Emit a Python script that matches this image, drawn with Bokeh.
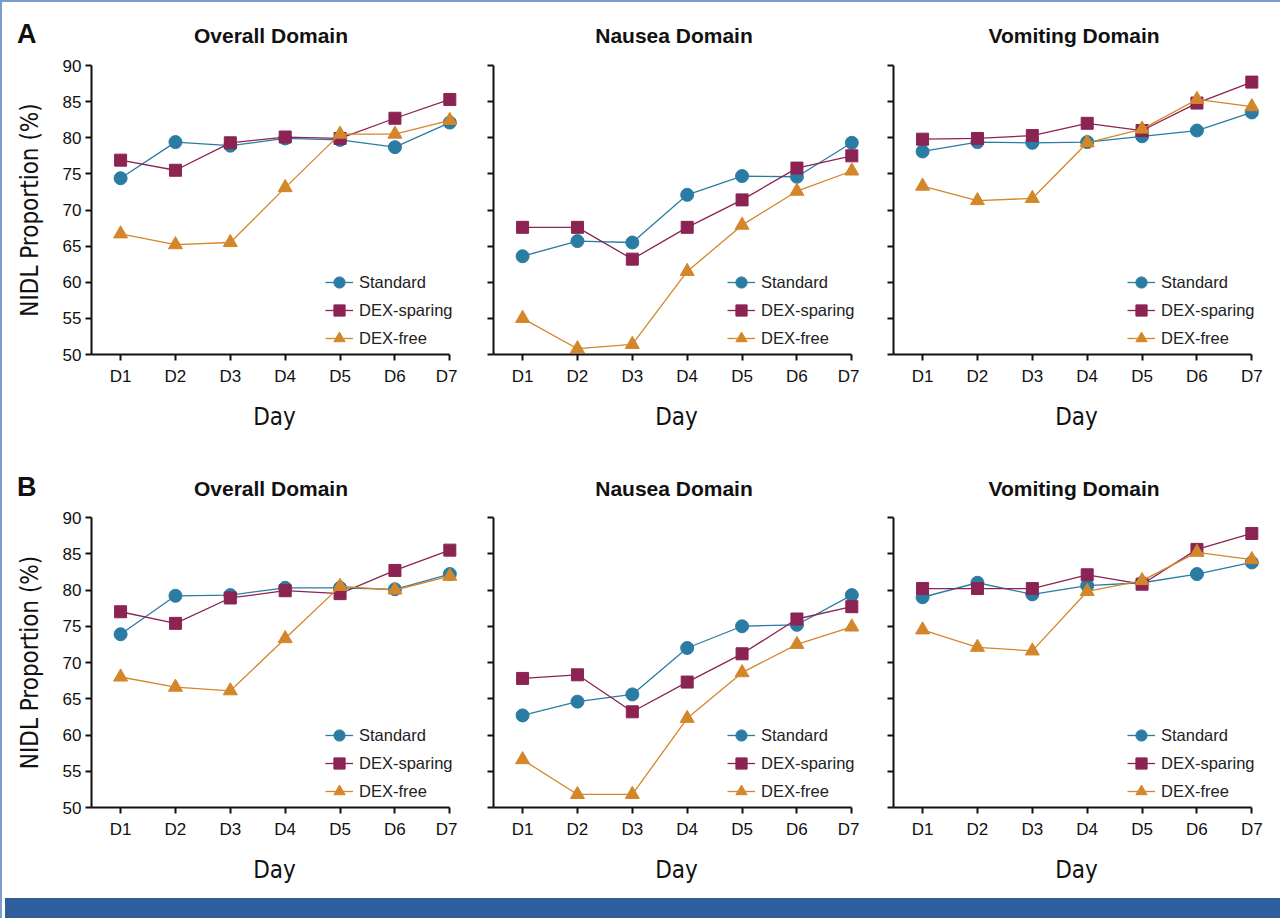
from bokeh.plotting import figure
from bokeh.models import (Range1d, FixedTicker, Legend, LegendItem, Div)
from bokeh.layouts import row, column
from bokeh.embed import file_html
from bokeh.resources import INLINE

# ---------------- data ----------------
days = ["D1", "D2", "D3", "D4", "D5", "D6", "D7"]
day_pos = [1, 2, 3, 4, 5, 6, 7]
y_ticks = [50, 55, 60, 65, 70, 75, 80, 85, 90]
series_names = ["Standard", "DEX-sparing", "DEX-free"]
domains = ["Overall Domain", "Nausea Domain", "Vomiting Domain"]
panel_letters = ["A", "B"]

# Panel A
a_overall_standard = [74.4, 79.4, 78.9, 79.9, 79.7, 78.7, 82.1]
a_overall_sparing = [76.9, 75.5, 79.3, 80.1, 79.9, 82.7, 85.3]
a_overall_free = [66.7, 65.2, 65.5, 73.1, 80.5, 80.5, 82.4]

a_nausea_standard = [63.6, 65.7, 65.5, 72.1, 74.7, 74.6, 79.3]
a_nausea_sparing = [67.6, 67.6, 63.2, 67.6, 71.4, 75.8, 77.5]
a_nausea_free = [55.0, 50.8, 51.4, 61.5, 67.9, 72.6, 75.4]

a_vomiting_standard = [78.1, 79.4, 79.3, 79.4, 80.2, 81.0, 83.5]
a_vomiting_sparing = [79.8, 79.9, 80.3, 82.0, 81.0, 84.8, 87.7]
a_vomiting_free = [73.3, 71.3, 71.6, 79.3, 81.2, 85.3, 84.3]

# Panel B
b_overall_standard = [73.9, 79.2, 79.3, 80.3, 80.3, 80.1, 82.2]
b_overall_sparing = [77.0, 75.4, 78.9, 79.9, 79.5, 82.7, 85.5]
b_overall_free = [68.0, 66.6, 66.1, 73.3, 80.5, 80.0, 81.9]

b_nausea_standard = [62.7, 64.6, 65.6, 72.0, 75.0, 75.2, 79.3]
b_nausea_sparing = [67.8, 68.3, 63.2, 67.3, 71.2, 76.0, 77.7]
b_nausea_free = [56.6, 51.8, 51.8, 62.3, 68.6, 72.5, 74.9]

b_vomiting_standard = [79.0, 81.0, 79.4, 80.6, 81.0, 82.2, 83.8]
b_vomiting_sparing = [80.2, 80.2, 80.2, 82.1, 80.8, 85.6, 87.8]
b_vomiting_free = [74.5, 72.1, 71.6, 79.8, 81.3, 85.2, 84.2]

# ---------------- styling ----------------
COLORS = ["#2a7ca3", "#8b2353", "#d4862a"]
MARKERS = ["circle", "square", "triangle"]
SIZES = [13, 12, 14]
TICK_FONT = "'Liberation Sans', Arial, sans-serif"
LABEL_FONT = "'Liberation Sans Narrow', 'DejaVu Sans Condensed', 'Liberation Sans', sans-serif"

FRAME_W = 366
TITLE_CENTERS = [271, 674, 1074]


def header(letter, height, letter_top, title_top):
    parts = [f'<div style="position:relative;width:1280px;height:{height}px;margin:0;padding:0;">']
    parts.append(
        f'<div style="position:absolute;left:17px;top:{letter_top}px;'
        f'font-family:{TICK_FONT};font-size:27px;font-weight:bold;'
        f'line-height:27px;color:#111111;">{letter}</div>')
    for c, name in zip(TITLE_CENTERS, domains):
        parts.append(
            f'<div style="position:absolute;left:{c - 200}px;width:400px;'
            f'top:{title_top}px;text-align:center;font-family:{TICK_FONT};'
            f'font-size:21px;font-weight:bold;line-height:21px;'
            f'color:#111111;white-space:nowrap;">{name}</div>')
    parts.append('</div>')
    return Div(text="".join(parts), width=1280, height=height,
               styles={"margin": "0", "padding": "0", "overflow": "visible"})


def make_panel(values, show_ylabels, left, right, bottom, frame_h):
    p = figure(frame_width=FRAME_W, frame_height=frame_h,
               x_range=Range1d(0.47, 7.14), y_range=Range1d(50, 90),
               output_backend="svg", toolbar_location=None, title=None,
               min_border_left=left, min_border_right=right,
               min_border_top=10, min_border_bottom=bottom)
    p.border_fill_color = None
    p.background_fill_color = None
    p.outline_line_color = None
    p.xgrid.visible = False
    p.ygrid.visible = False

    for ax in (p.xaxis[0], p.yaxis[0]):
        ax.axis_line_width = 2
        ax.axis_line_color = "#111111"
        ax.major_tick_line_width = 2
        ax.major_tick_line_color = "#111111"
        ax.major_tick_out = 6
        ax.major_tick_in = 0
        ax.minor_tick_line_color = None
        ax.major_label_text_font = TICK_FONT
        ax.major_label_text_font_size = "17px"
        ax.major_label_text_color = "#111111"
        ax.axis_label_text_font = LABEL_FONT
        ax.axis_label_text_font_size = "24px"
        ax.axis_label_text_font_style = "normal"
        ax.axis_label_text_color = "#111111"

    p.xaxis.ticker = FixedTicker(ticks=day_pos)
    p.xaxis.major_label_overrides = {d: lab for d, lab in zip(day_pos, days)}
    p.xaxis.bounds = (0.47, 7)
    p.xaxis.major_label_standoff = 6
    p.xaxis.axis_label = "Day"
    p.xaxis.axis_label_standoff = 14

    p.yaxis.ticker = FixedTicker(ticks=y_ticks)
    p.yaxis.major_label_standoff = 4
    if show_ylabels:
        p.yaxis.axis_label = "NIDL Proportion (%)"
        p.yaxis.axis_label_standoff = 16
    else:
        p.yaxis.major_label_overrides = {t: "" for t in y_ticks}

    items = []
    for name, vals, col, mk, sz in zip(series_names, values, COLORS, MARKERS, SIZES):
        ln = p.line(day_pos, vals, line_color=col, line_width=1.3)
        sc = p.scatter(day_pos, vals, marker=mk, size=sz, fill_color=col,
                       line_color=col, line_width=1)
        items.append(LegendItem(label=name, renderers=[ln, sc]))

    legend = Legend(items=items, location=(234, 2),
                    glyph_width=28, glyph_height=28, label_height=20,
                    spacing=0, padding=0, margin=0, label_standoff=6,
                    border_line_color=None, background_fill_alpha=0,
                    label_text_font=TICK_FONT, label_text_font_size="16.5px",
                    label_text_color="#222222")
    p.add_layout(legend)
    return p


row_a_values = [
    [a_overall_standard, a_overall_sparing, a_overall_free],
    [a_nausea_standard, a_nausea_sparing, a_nausea_free],
    [a_vomiting_standard, a_vomiting_sparing, a_vomiting_free],
]
row_b_values = [
    [b_overall_standard, b_overall_sparing, b_overall_free],
    [b_nausea_standard, b_nausea_sparing, b_nausea_free],
    [b_vomiting_standard, b_vomiting_sparing, b_vomiting_free],
]

lefts = [91, 36, 34]
rights = [0, 0, 21]

blocks = []
for letter, vals_row, hh, lt, tt, bottom, fh in zip(
        panel_letters, [row_a_values, row_b_values],
        [55, 62], [21, 29], [25, 33], [91, 86], [289, 290]):
    blocks.append(header(letter, hh, lt, tt))
    figs = [make_panel(vals, i == 0, lefts[i], rights[i], bottom, fh)
            for i, vals in enumerate(vals_row)]
    blocks.append(row(*figs, spacing=0))

band = Div(text="", width=1280, height=22,
           styles={"background-color": "#2f5e9c"})

layout = column(*blocks, band, spacing=0,
                styles={"background-color": "white",
                        "box-shadow": "inset 0 0 0 2px #7d9cc8"})

open("out.html", "w").write(file_html(layout, INLINE))
